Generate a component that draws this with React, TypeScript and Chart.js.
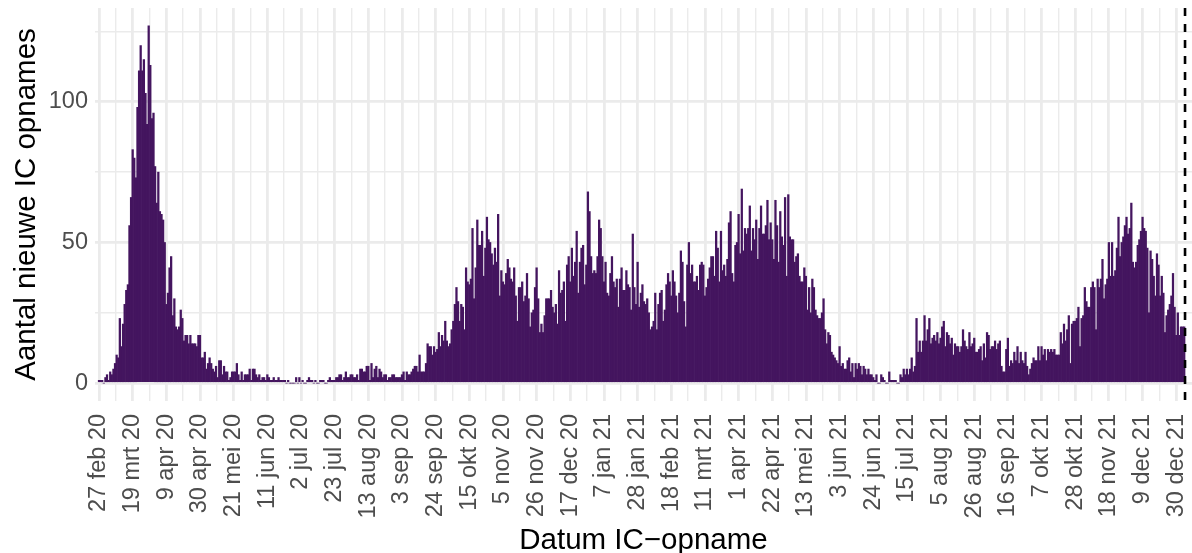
import { useEffect, useRef } from 'react';
import { Chart, registerables } from 'chart.js';

Chart.register(...registerables);

// Day 0 = 27 feb 2020; one bar per day (new IC admissions)
const startDate = '2020-02-27';

const admissionsFebApr2020 = [1, 1, 1, 0, 2, 3, 1, 4, 3, 5, 7, 10, 9, 23, 13, 21, 28, 33, 35, 56, 66, 83, 80, 73, 98, 111, 120, 111, 115, 103, 92, 127, 113, 94, 96, 77, 64, 75, 61, 60, 58, 50, 28, 32, 41, 45, 24, 30, 20, 19, 20, 26, 23, 15, 17, 17, 14];
const admissionsAprJun2020 = [17, 14, 14, 14, 13, 17, 17, 9, 9, 11, 5, 7, 9, 7, 5, 4, 6, 2, 8, 8, 3, 6, 4, 4, 1, 2, 4, 4, 4, 7, 3, 1, 4, 1, 3, 3, 3, 5, 1, 5, 5, 3, 2, 3, 1, 2, 2, 1, 3, 2, 1, 1, 2, 1, 1, 2, 1, 1, 1, 1, 0, 1, 0, 0, 0, 0];
const admissionsJunSep2020 = [2, 0, 2, 0, 1, 0, 0, 1, 2, 1, 1, 0, 1, 0, 0, 1, 1, 1, 0, 0, 1, 2, 1, 1, 1, 2, 2, 3, 3, 1, 2, 4, 2, 2, 3, 3, 2, 2, 3, 1, 5, 5, 4, 4, 6, 6, 1, 7, 2, 5, 6, 2, 5, 4, 2, 3, 3, 1, 2, 2, 3, 3, 2, 2, 2];
const admissionsSepNov2020 = [2, 3, 4, 1, 4, 3, 3, 4, 5, 6, 6, 4, 10, 4, 4, 4, 7, 14, 13, 13, 10, 13, 11, 12, 18, 13, 17, 15, 22, 15, 13, 14, 19, 22, 28, 34, 29, 22, 28, 27, 19, 41, 36, 35, 37, 55, 30, 41, 58, 49, 49, 54, 38, 48, 59, 51, 50, 46, 42, 48, 43, 60];
const admissionsNovDec2020 = [31, 40, 36, 35, 39, 44, 41, 37, 36, 41, 31, 22, 34, 34, 36, 29, 31, 39, 30, 20, 25, 26, 34, 41, 30, 18, 21, 18, 24, 30, 30, 30, 33, 27, 25, 28, 21, 40, 32, 33, 36, 22, 42, 45, 36, 48, 38, 43, 54, 32, 43, 48, 49, 35, 42, 68, 61];
const admissionsDecFeb2021 = [45, 39, 40, 39, 45, 58, 55, 45, 36, 43, 32, 31, 39, 45, 36, 34, 37, 27, 37, 41, 33, 33, 40, 35, 34, 26, 53, 34, 28, 43, 27, 32, 35, 29, 28, 30, 25, 19, 20, 22, 32, 19, 28, 32, 33, 22, 26, 35, 39, 36, 31, 40, 36, 31, 25, 32, 47, 43, 29, 20];
const admissionsFebApr2021 = [42, 50, 39, 42, 36, 36, 38, 33, 42, 43, 42, 31, 34, 37, 41, 45, 45, 38, 54, 48, 36, 54, 40, 42, 38, 44, 57, 61, 39, 36, 49, 50, 60, 46, 69, 47, 55, 53, 55, 63, 47, 55, 51, 58, 44, 55, 63, 53, 53, 56, 65, 51, 57, 51, 44, 65, 56, 43, 61, 52, 49];
const admissionsAprJun2021 = [66, 38, 67, 52, 51, 51, 43, 45, 46, 38, 36, 36, 41, 38, 26, 34, 25, 37, 34, 26, 24, 23, 23, 25, 30, 19, 14, 18, 17, 11, 10, 9, 8, 7, 13, 6, 7, 5, 5, 8, 9, 4, 7, 2, 7, 5, 7, 6, 3, 6, 5, 3, 5, 3, 3, 2, 1, 3, 0, 0];
const admissionsJunAug2021 = [3, 2, 1, 0, 0, 4, 1, 1, 1, 1, 0, 0, 3, 2, 5, 3, 5, 3, 5, 9, 4, 6, 23, 11, 15, 11, 15, 24, 15, 19, 23, 14, 16, 17, 15, 18, 14, 16, 20, 22, 13, 18, 17, 14, 16, 10, 14, 13, 13, 11, 13, 19, 15, 13, 12, 18, 13, 14, 16, 11, 11, 12];
const admissionsAugOct2021 = [13, 8, 14, 9, 18, 17, 12, 13, 13, 15, 12, 14, 15, 6, 4, 4, 12, 16, 6, 8, 7, 11, 8, 13, 7, 11, 8, 7, 11, 6, 3, 5, 7, 9, 8, 8, 13, 8, 13, 10, 12, 8, 12, 11, 12, 11, 12, 10, 10, 10, 18, 14, 21, 15, 19, 24, 7, 21, 22, 22, 23, 27];
const admissionsOct2021Jan2022 = [13, 23, 24, 34, 29, 27, 27, 34, 36, 34, 19, 37, 34, 37, 44, 30, 35, 37, 50, 38, 50, 38, 40, 48, 59, 45, 50, 52, 56, 59, 53, 55, 64, 43, 41, 43, 49, 51, 54, 59, 55, 54, 48, 25, 47, 44, 38, 31, 46, 42, 31, 38, 32, 18, 24, 26, 28, 31, 39, 27, 17, 25, 17, 20, 20, 20];

// x tick labels, every 21 days starting at day 0
const tickLabels = ['27 feb 20', '19 mrt 20', '9 apr 20', '30 apr 20', '21 mei 20', '11 jun 20', '2 jul 20', '23 jul 20', '13 aug 20', '3 sep 20', '24 sep 20', '15 okt 20', '5 nov 20', '26 nov 20', '17 dec 20', '7 jan 21', '28 jan 21', '18 feb 21', '11 mrt 21', '1 apr 21', '22 apr 21', '13 mei 21', '3 jun 21', '24 jun 21', '15 jul 21', '5 aug 21', '26 aug 21', '16 sep 21', '7 okt 21', '28 okt 21', '18 nov 21', '9 dec 21', '30 dec 21'];
const tickStepDays = 21;
const yTickValues = [0, 50, 100];
// dashed reference line (in days since start)
const cutoffDay = 677.5;

const FONT = "'Liberation Sans', Arial, Helvetica, sans-serif";
const GRID = '#EBEBEB';

export default function App() {
  const ref = useRef<HTMLCanvasElement | null>(null);

  useEffect(() => {
    if (!ref.current) return;
    void startDate;
    const values = [
      ...admissionsFebApr2020, ...admissionsAprJun2020, ...admissionsJunSep2020,
      ...admissionsSepNov2020, ...admissionsNovDec2020, ...admissionsDecFeb2021,
      ...admissionsFebApr2021, ...admissionsAprJun2021, ...admissionsJunAug2021,
      ...admissionsAugOct2021, ...admissionsOct2021Jan2022,
    ];
    const points = values.map((v, i) => ({ x: i, y: v }));

    const cutoffPlugin = {
      id: 'cutoff',
      afterDatasetsDraw(chart: any) {
        const { ctx, chartArea, scales } = chart;
        const x = scales.x.getPixelForValue(cutoffDay);
        ctx.save();
        ctx.beginPath();
        ctx.setLineDash([8, 8]);
        ctx.lineWidth = 2.6;
        ctx.strokeStyle = '#000000';
        ctx.moveTo(x, chartArea.top);
        ctx.lineTo(x, chartArea.bottom);
        ctx.stroke();
        ctx.restore();
      },
    };

    const nTicks = (tickLabels.length - 1) * 2;

    const chart = new Chart(ref.current, {
      type: 'bar',
      data: {
        datasets: [
          {
            data: points as any,
            backgroundColor: '#44155F',
            borderWidth: 0,
            barPercentage: 1,
            categoryPercentage: 1,
          },
        ],
      },
      options: {
        animation: false,
        responsive: false,
        events: [],
        layout: { padding: { top: 8, right: 0, left: 0, bottom: 0 } },
        plugins: { legend: { display: false }, tooltip: { enabled: false } },
        scales: {
          x: {
            type: 'linear',
            min: -2.5,
            max: 681.85,
            offset: false,
            border: { display: false },
            grid: {
              color: GRID,
              offset: false,
              drawTicks: false,
              lineWidth: (c: any) => (c.tick && c.tick.value % tickStepDays === 0 ? 2.8 : 1.4),
            },
            afterBuildTicks: (s: any) => {
              const t = [];
              for (let i = 0; i <= nTicks; i++) t.push({ value: (i * tickStepDays) / 2 });
              s.ticks = t;
            },
            ticks: {
              autoSkip: false,
              minRotation: 90,
              maxRotation: 90,
              padding: 13,
              color: '#4D4D4D',
              font: { family: FONT, size: 23.5 },
              callback: (v: any) => {
                const i = Number(v) / tickStepDays;
                return Number.isInteger(i) ? tickLabels[i] : '';
              },
            },
            title: {
              display: true,
              text: 'Datum IC\u2212opname',
              color: '#000000',
              font: { family: FONT, size: 29.5 },
              padding: { top: 0, bottom: -6 },
            },
            afterFit: (s: any) => {
              s.height = 152;
              s.paddingLeft = 0;
              s.paddingRight = 0;
            },
          },
          y: {
            type: 'linear',
            min: -6.35,
            max: 133.35,
            border: { display: false },
            grid: {
              color: GRID,
              drawTicks: false,
              lineWidth: (c: any) => (c.tick && yTickValues.includes(c.tick.value) ? 2.8 : 1.4),
            },
            afterBuildTicks: (s: any) => {
              const t = [];
              for (let i = 0; i < yTickValues.length; i++) {
                t.push({ value: yTickValues[i] });
                t.push({ value: yTickValues[i] + 25 });
              }
              s.ticks = t.sort((a, b) => a.value - b.value);
            },
            ticks: {
              padding: 7,
              color: '#4D4D4D',
              font: { family: FONT, size: 23.5 },
              callback: (v: any) => (yTickValues.includes(Number(v)) ? String(v) : ''),
            },
            title: {
              display: true,
              text: 'Aantal nieuwe IC opnames',
              color: '#000000',
              font: { family: FONT, size: 29.5 },
              padding: { top: 9, bottom: 0 },
            },
            afterFit: (s: any) => {
              s.width = 95;
              s.paddingTop = 0;
              s.paddingBottom = 0;
            },
          },
        },
      },
      plugins: [cutoffPlugin],
    });

    return () => chart.destroy();
  }, []);

  return (
    <div style={{ position: 'fixed', left: 0, top: 0, width: 1192, height: 553, background: '#ffffff' }}>
      <canvas ref={ref} width={1192} height={553} style={{ display: 'block' }} />
    </div>
  );
}
